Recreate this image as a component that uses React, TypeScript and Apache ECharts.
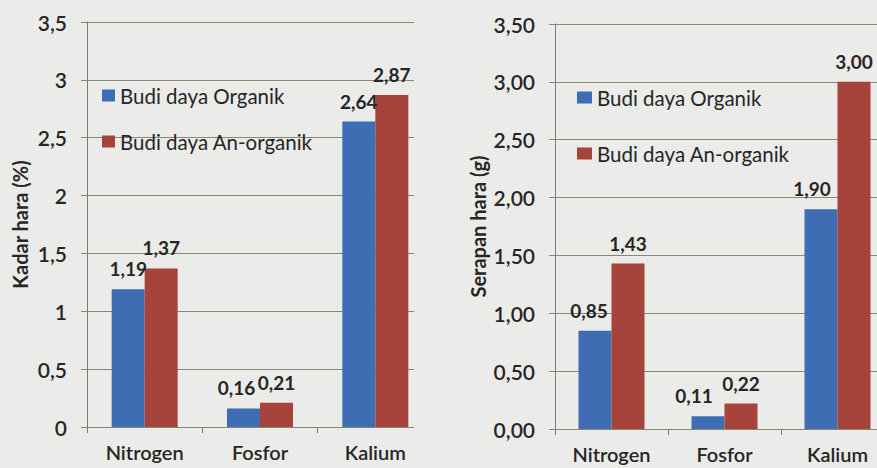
import React, { useEffect, useRef } from "react";
import * as echarts from "echarts";

const categories = ["Nitrogen", "Fosfor", "Kalium"];
const seriesNames = ["Budi daya Organik", "Budi daya An-organik"];
const kadarOrganik = [1.19, 0.16, 2.64];
const kadarAnorganik = [1.37, 0.21, 2.87];
const serapanOrganik = [0.85, 0.11, 1.9];
const serapanAnorganik = [1.43, 0.22, 3.0];
const leftAxisName = "Kadar hara (%)";
const rightAxisName = "Serapan hara (g)";
// horizontal nudges of value labels, as placed in the original
const kadarOrganikLabelShift = [0, -7, 0];
const serapanOrganikLabelShift = [-6, -14, -9];

const BG = "#ebebe9";
const BLUE = "#3f6db4";
const RED = "#a6433b";
const TXT = "#262626";
const GRID = "#8a8672";
const FONT = "Lato, 'Open Sans', sans-serif";
const CHART_W = 900;

export default function App() {
  const ref = useRef<HTMLDivElement>(null);
  useEffect(() => {
    if (!ref.current) return;
    const chart = echarts.init(ref.current, null, { renderer: "svg" });
    const comma2 = (v: number) => v.toFixed(2).replace(".", ",");
    const yAxisCommon = (fmt: (v: number) => string, name: string, gap: number) => ({
      type: "value",
      min: 0,
      max: 3.5,
      interval: 0.5,
      name,
      nameLocation: "middle",
      nameGap: gap,
      nameTextStyle: { fontFamily: FONT, fontSize: 20, fontWeight: "bold", color: TXT },
      axisLine: { show: true, lineStyle: { color: "#7a7a7a", width: 1 } },
      axisTick: { show: true, length: 6, lineStyle: { color: GRID } },
      splitLine: { show: true, lineStyle: { color: GRID, width: 1.2 } },
      axisLabel: {
        margin: 20,
        fontFamily: FONT,
        fontSize: 21,
        fontWeight: 600,
        color: TXT,
        formatter: fmt,
      },
    });
    const xAxisCommon = (gridIndex: number) => ({
      type: "category",
      gridIndex,
      data: categories,
      axisLine: { show: true, lineStyle: { color: GRID, width: 1.2 } },
      axisTick: { show: true, length: 6, alignWithLabel: false, lineStyle: { color: "#7a7a7a" } },
      axisLabel: { margin: 15, fontFamily: FONT, fontSize: 20, fontWeight: 600, color: TXT },
    });
    const barSeries = (
      name: string,
      data: number[],
      color: string,
      idx: number,
      shifts?: number[]
    ) => ({
      type: "bar",
      name,
      data: data.map((v, i) =>
        shifts && shifts[i] ? { value: v, label: { offset: [shifts[i], 0] } } : v
      ),
      xAxisIndex: idx,
      yAxisIndex: idx,
      barWidth: 33,
      barGap: "0%",
      itemStyle: { color },
      label: {
        show: true,
        position: "top",
        distance: 11,
        fontFamily: FONT,
        fontSize: 19,
        fontWeight: "bold",
        color: TXT,
        formatter: (p: any) => comma2(p.value),
      },
    });
    const legendCommon = {
      orient: "vertical",
      icon: "rect",
      itemWidth: 13,
      itemHeight: 12,
      data: seriesNames,
      selectedMode: false,
      textStyle: { fontFamily: FONT, fontSize: 20.5, color: TXT },
    };
    chart.setOption({
      animation: false,
      backgroundColor: BG,
      color: [BLUE, RED],
      grid: [
        { left: 87, top: 22, right: CHART_W - 433, bottom: 41, containLabel: false },
        { left: 555, top: 24, right: CHART_W - 894, bottom: 39, containLabel: false },
      ],
      xAxis: [xAxisCommon(0), xAxisCommon(1)],
      yAxis: [
        {
          ...yAxisCommon((v: number) => String(v).replace(".", ","), leftAxisName, 57),
          gridIndex: 0,
        },
        { ...yAxisCommon(comma2, rightAxisName, 67), gridIndex: 1 },
      ],
      legend: [
        { ...legendCommon, left: 97, top: 80, itemGap: 25 },
        { ...legendCommon, left: 572, top: 82, itemGap: 35, itemWidth: 15 },
      ],
      series: [
        barSeries(seriesNames[0], kadarOrganik, BLUE, 0, kadarOrganikLabelShift),
        barSeries(seriesNames[1], kadarAnorganik, RED, 0),
        barSeries(seriesNames[0], serapanOrganik, BLUE, 1, serapanOrganikLabelShift),
        barSeries(seriesNames[1], serapanAnorganik, RED, 1),
      ],
      graphic: [
        {
          type: "rect",
          z: 100,
          shape: { x: 414, y: 0, width: 28, height: 440 },
          style: { fill: BG },
        },
      ],
    });
    return () => chart.dispose();
  }, []);
  return (
    <div
      style={{
        position: "absolute",
        left: 0,
        top: 0,
        width: 877,
        height: 468,
        overflow: "hidden",
        background: BG,
      }}
    >
      <div ref={ref} style={{ width: CHART_W, height: 468 }} />
    </div>
  );
}
